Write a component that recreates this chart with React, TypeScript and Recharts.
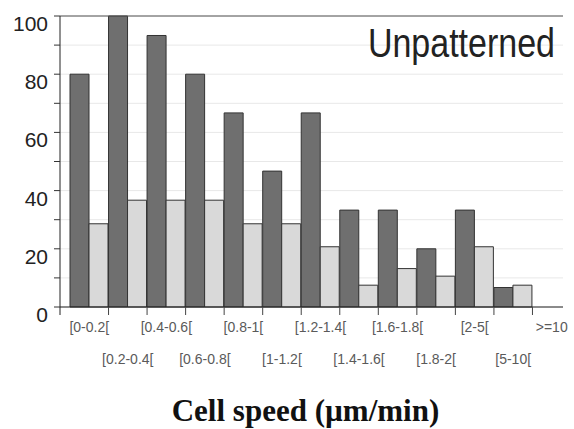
import React from 'react';
import { BarChart, Bar, XAxis, YAxis, CartesianGrid, ReferenceLine, Label, Customized } from 'recharts';

// speed buckets (µm/min)
const categories = ['[0-0.2[', '[0.2-0.4[', '[0.4-0.6[', '[0.6-0.8[', '[0.8-1[', '[1-1.2[', '[1.2-1.4[', '[1.4-1.6[', '[1.6-1.8[', '[1.8-2[', '[2-5[', '[5-10[', '>=10'];
const darkValues = [80, 100, 93.3, 80, 66.7, 46.7, 66.7, 33.3, 33.3, 20, 33.3, 6.7, 0];
const lightValues = [28.6, 36.7, 36.7, 36.7, 28.6, 28.6, 20.7, 7.5, 13.2, 10.6, 20.7, 7.5, 0];
const yTicks = [0, 10, 20, 30, 40, 50, 60, 70, 80, 90, 100];

const data = categories.map((range, i) => ({ range, dark: darkValues[i], light: lightValues[i] }));

const sans = "Arial, 'Liberation Sans', sans-serif";
const axisPadding = { left: 10, right: -8 };

// label at bucket centre (staggered in two rows) + tick mark at the bucket's right edge
const XTick = (props: any) => {
  const { x, y, payload, index, width, visibleTicksCount } = props;
  const count = visibleTicksCount || categories.length;
  const band = ((width || 503) - axisPadding.left - axisPadding.right) / count;
  const lower = index % 2 === 1;
  const edge = x + band / 2;
  const axisStart = x - band / 2 - axisPadding.left;
  return (
    <g>
      {index === 0 && <line x1={axisStart} x2={axisStart} y1={y} y2={y + 8} stroke="#222" />}
      {index < count - 1 && <line x1={edge} x2={edge} y1={y} y2={y + 8} stroke="#444" />}
      <text x={x} y={y + (lower ? 57 : 25)} textAnchor="middle" fontSize={14} fill="#5a5a5a" fontFamily={sans}>
        {payload.value}
      </text>
    </g>
  );
};

const YTick = (props: any) => {
  const { x, y, payload } = props;
  if (payload.value % 20 !== 0) return <g />;
  return (
    <text x={x - 4} y={y + 15} textAnchor="end" fontSize={21} fill="#222" fontFamily={sans}>
      {payload.value}
    </text>
  );
};

const Title = () => (
  <text
    x={555}
    y={57}
    textAnchor="end"
    fontSize={34}
    fill="#222"
    fontFamily={sans}
    transform="translate(0,57) scale(1,1.2) translate(0,-57)"
  >
    Unpatterned
  </text>
);

export default function App() {
  return (
    <div style={{ position: 'absolute', left: 0, top: 0, background: '#fff' }}>
      <BarChart
        width={574}
        height={429}
        data={data}
        margin={{ top: 16, right: 11, bottom: 0, left: 0 }}
        barCategoryGap={0}
        barGap={0}
      >
        <CartesianGrid vertical={false} stroke="#e8e8e8" />
        <XAxis
          dataKey="range"
          padding={axisPadding}
          height={122}
          interval={0}
          tickLine={false}
          tickSize={0}
          tickMargin={0}
          axisLine={{ stroke: '#222' }}
          tick={<XTick />}
        >
          <Label
            value="Cell speed (µm/min)"
            position="insideBottom"
            offset={8}
            dx={-6}
            style={{ fontFamily: "'Times New Roman', 'Liberation Serif', serif", fontWeight: 'bold', fontSize: 31, fill: '#111' }}
          />
        </XAxis>
        <YAxis
          domain={[0, 100]}
          ticks={yTicks}
          width={60}
          tickSize={6}
          tickLine={{ stroke: '#333' }}
          axisLine={{ stroke: '#222' }}
          tick={<YTick />}
          interval={0}
        />
        <YAxis yAxisId="frame" orientation="right" domain={[0, 100]} width={0} tick={false} tickLine={false} axisLine={{ stroke: '#aaa' }} />
        <ReferenceLine y={100} stroke="#555" />
        <Bar dataKey="dark" fill="#6f6f6f" stroke="#333" strokeWidth={1} isAnimationActive={false} />
        <Bar dataKey="light" fill="#d9d9d9" stroke="#333" strokeWidth={1} isAnimationActive={false} />
        <Customized component={Title} />
      </BarChart>
    </div>
  );
}
